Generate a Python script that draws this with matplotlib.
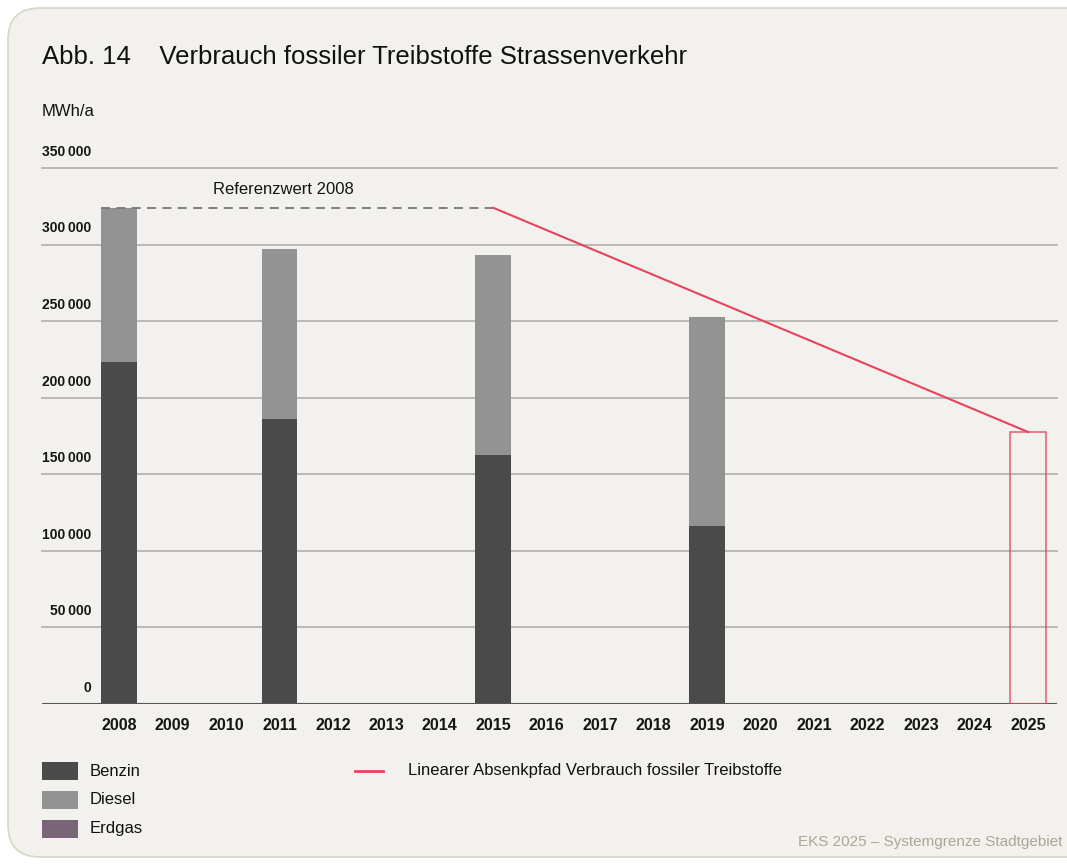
import matplotlib
matplotlib.use("Agg")
import matplotlib.pyplot as plt
from matplotlib.patches import FancyBboxPatch, Rectangle
from matplotlib.lines import Line2D
import matplotlib.transforms as mtransforms

plt.rcParams['font.family'] = ['Liberation Sans', 'DejaVu Sans']

years = [str(y) for y in range(2008, 2026)]
bar_years = ["2008", "2011", "2015", "2019"]
benzin = [223000, 186000, 162500, 116000]
diesel = [101000, 111000, 130500, 137000]
erdgas = [0, 0, 0, 0]
reference_2008 = 324000
target_2025 = 177600
path_years = ["2015", "2025"]
path_values = [324000, 177600]
yticks = [0, 50000, 100000, 150000, 200000, 250000, 300000, 350000]

c_benzin = "#4a4a4a"
c_diesel = "#939393"
c_erdgas = "#7a6478"
c_red = "#e8425e"
bg = "#f2f1ed"
txt = "#151515"

fig = plt.figure(figsize=(10.67, 8.65), dpi=100)
fig.patch.set_facecolor("white")
card = FancyBboxPatch((8/1067, 8/865), 1.2, 1 - 16/865, boxstyle="round,pad=0,rounding_size=0.03",
                      transform=fig.transFigure, facecolor=bg, edgecolor="#d6d6c6", linewidth=1.2,
                      mutation_aspect=1067/865, zorder=-10)
fig.patches.append(card)

ax = fig.add_axes([42/1067, 1 - 704/865, (1057 - 42)/1067, (704 - 168)/865])
ax.set_facecolor("none")
idx = {y: i for i, y in enumerate(years)}
xb = [idx[y] for y in bar_years]
w = 0.67
ax.bar(xb, benzin, width=w, color=c_benzin, zorder=3)
ax.bar(xb, diesel, width=w, bottom=benzin, color=c_diesel, zorder=3)
ax.bar(xb, erdgas, width=w, bottom=[b + d for b, d in zip(benzin, diesel)], color=c_erdgas, zorder=3)

ax.set_xlim(-1.44, 17.54)
ax.set_ylim(0, 350000)
for v in yticks[1:]:
    ax.axhline(v, color="#b4b4b0", linewidth=1.3, zorder=1, clip_on=False)
ax.axhline(0, color="#555555", linewidth=1.5, zorder=4)

for s in ax.spines.values():
    s.set_visible(False)
ax.set_yticks([])
ax.set_xticks(range(len(years)))
ax.set_xticklabels(years, fontsize=11.5, fontweight="bold", color=txt)
ax.tick_params(axis="x", length=0, pad=10)

trans = mtransforms.blended_transform_factory(ax.transAxes, ax.transData)
for v in yticks:
    lab = "0" if v == 0 else f"{v // 1000}\u2009000"
    ax.text((91 - 42) / 1015, v + 6000, lab, transform=trans, ha="right", va="bottom",
            fontsize=10, fontweight="bold", color=txt)

# reference dashed line
ax.plot([idx["2008"] - w / 2, idx["2015"]], [reference_2008, reference_2008], color="#777777",
        linestyle=(0, (5, 3.5)), linewidth=1.3, zorder=4)
ax.text(idx["2010"] - 0.25, reference_2008 + 7000, "Referenzwert 2008", ha="left", va="bottom",
        fontsize=12, color=txt)
# linear path
ax.plot([idx[y] for y in path_years], path_values, color=c_red, linewidth=1.5, zorder=5)
ax.add_patch(Rectangle((idx["2025"] - w / 2, 0), w, target_2025, facecolor="none",
                       edgecolor=c_red, linewidth=1.2, alpha=0.8, zorder=5))

fig.text(42/1067, 1 - 57/865, "Abb. 14    Verbrauch fossiler Treibstoffe Strassenverkehr",
         fontsize=18.5, color="#111111", va="center", ha="left")
fig.text(42/1067, 1 - 112/865, "MWh/a", fontsize=12, color="#111111", va="center", ha="left")

# legend
for i, (lab, col) in enumerate([("Benzin", c_benzin), ("Diesel", c_diesel), ("Erdgas", c_erdgas)]):
    yc = 771 + i * 29
    fig.patches.append(Rectangle((42/1067, 1 - (yc + 9)/865), 36/1067, 18/865, transform=fig.transFigure,
                                 facecolor=col, edgecolor="none"))
    fig.text(90/1067, 1 - yc/865, lab, fontsize=12, color="#111111", va="center", ha="left")
fig.lines.append(Line2D([355/1067, 383/1067], [1 - 771/865, 1 - 771/865], transform=fig.transFigure,
                        color=c_red, linewidth=2))
fig.text(408/1067, 1 - 771/865, "Linearer Absenkpfad Verbrauch fossiler Treibstoffe", fontsize=12,
         color="#111111", va="center", ha="left")
fig.text(1062/1067, 1 - 842/865, "EKS 2025 \u2013 Systemgrenze Stadtgebiet", fontsize=11,
         color="#a8a896", va="center", ha="right")

fig.savefig("out.png", dpi=100, facecolor=fig.get_facecolor())
